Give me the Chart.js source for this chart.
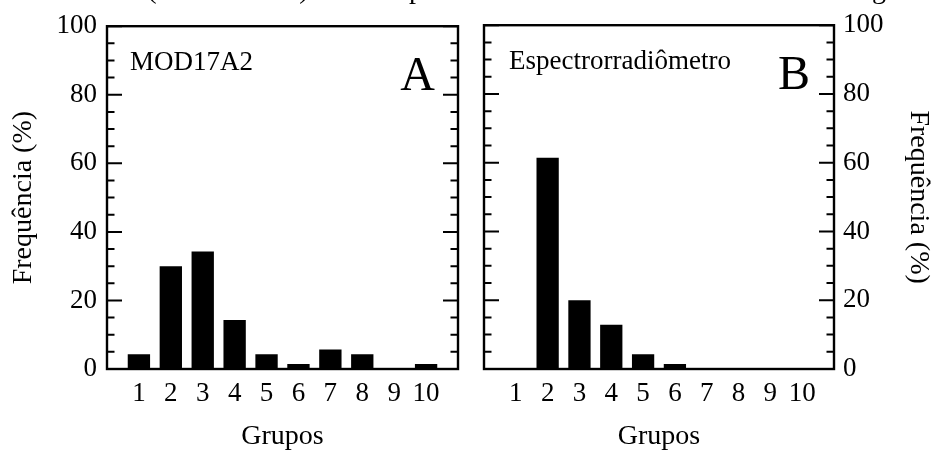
<!DOCTYPE html>
<html><head><meta charset="utf-8">
<script src="https://cdn.jsdelivr.net/npm/chart.js@4"></script>
<style>
html,body{margin:0;padding:0;background:#fff;}
#wrap{position:relative;width:932px;height:452px;overflow:hidden;background:#fff;}
canvas{position:absolute;left:0;top:0;}
</style></head><body>
<div id="wrap"><canvas id="ca" width="932" height="452"></canvas><canvas id="cb" width="932" height="452"></canvas></div>
<script>
// ---- data ----
const groups = [1, 2, 3, 4, 5, 6, 7, 8, 9, 10];
const mod17a2 = [4.29, 30.0, 34.29, 14.29, 4.29, 1.43, 5.71, 4.29, 0, 1.43];
const espectro = [0, 61.43, 20.0, 12.86, 4.29, 1.43, 0, 0, 0, 0];
const yMajorTicks = [0, 20, 40, 60, 80, 100];
const yMinorStep = 5;
const xTitle = 'Grupos';
const yTitle = 'Frequência (%)';
const panelNames = ['MOD17A2', 'Espectrorradiômetro'];
const panelLetters = ['A', 'B'];
const captionFragments = ['(', ')', 'p', 'g'];

const FONT = '"Liberation Serif", "Times New Roman", serif';

const framePlugin = {
  id: 'frame',
  afterDatasetsDraw(chart, args, opts) {
    const {ctx, chartArea: a} = chart;
    const y = chart.scales.y;
    ctx.save();
    ctx.strokeStyle = '#000';
    ctx.lineWidth = 2;
    ctx.beginPath();
    for (let v = 0; v <= 100; v += yMinorStep) {
      const p = y.getPixelForValue(v);
      const len = yMajorTicks.includes(v) ? 15 : 7.5;
      ctx.moveTo(a.left, p); ctx.lineTo(a.left + len, p);
      ctx.moveTo(a.right, p); ctx.lineTo(a.right - len, p);
    }
    ctx.stroke();
    ctx.lineWidth = 2.4;
    ctx.strokeRect(a.left, a.top, a.right - a.left, a.bottom - a.top);
    ctx.fillStyle = '#000';
    ctx.textBaseline = 'alphabetic';
    ctx.textAlign = 'left';
    ctx.font = '27px ' + FONT;
    ctx.fillText(opts.name, a.left + opts.nameDx, a.top + 44);
    ctx.font = '48px ' + FONT;
    ctx.textAlign = 'right';
    ctx.fillText(opts.letter, a.right - opts.letterDx, a.top + 64);
    if (opts.caption) {
      ctx.font = '28px ' + FONT;
      ctx.textAlign = 'center';
      const xs = [152, 304, 416, 879];
      captionFragments.forEach((t, i) => ctx.fillText(t, xs[i], -2));
    }
    ctx.restore();
  }
};

function makeChart(id, values, side, idx) {
  const isLeft = side === 'left';
  return new Chart(document.getElementById(id), {
    type: 'bar',
    data: {
      datasets: [{
        data: groups.map((g, i) => ({x: g, y: values[i]})),
        backgroundColor: '#000',
        borderWidth: 0,
        barPercentage: 0.7,
        categoryPercentage: 1.0
      }]
    },
    options: {
      responsive: false,
      animation: false,
      devicePixelRatio: 1,
      layout: {padding: isLeft ? {left: 0, right: 474, top: 19, bottom: 0} : {left: 484, right: 0, top: 19, bottom: 0}},
      plugins: {
        legend: {display: false},
        tooltip: {enabled: false},
        frame: {name: panelNames[idx], letter: panelLetters[idx], nameDx: isLeft ? 23 : 25, letterDx: isLeft ? 23 : 24, caption: isLeft}
      },
      scales: {
        x: {
          type: 'linear',
          min: 0, max: 11,
          offset: false,
          grid: {display: false, drawTicks: false},
          border: {display: false},
          afterFit(s) { s.height = 83; },
          afterBuildTicks(s) { s.ticks = groups.map(v => ({value: v})); },
          ticks: {
            autoSkip: false,
            maxRotation: 0,
            minRotation: 0,
            padding: 9,
            color: '#000',
            font: {family: FONT, size: 27},
            callback: (v) => String(v)
          },
          title: {display: true, text: xTitle, color: '#000', font: {family: FONT, size: 28, lineHeight: 1}, padding: {bottom: 1, top: 0}}
        },
        y: {
          position: side,
          min: 0, max: 100,
          grid: {display: false, drawTicks: false},
          border: {display: false},
          afterFit(s) { s.width = isLeft ? 107 : 98; },
          afterBuildTicks(s) { s.ticks = yMajorTicks.map(v => ({value: v})); },
          ticks: {
            padding: isLeft ? 10 : 9,
            color: '#000',
            font: {family: FONT, size: 27}
          },
          title: {display: true, text: yTitle, color: '#000', font: {family: FONT, size: 28, lineHeight: 1}, padding: {top: isLeft ? 10 : 0, bottom: 0}}
        }
      }
    },
    plugins: [framePlugin]
  });
}

makeChart('ca', mod17a2, 'left', 0);
makeChart('cb', espectro, 'right', 1);
</script>
</body></html>
